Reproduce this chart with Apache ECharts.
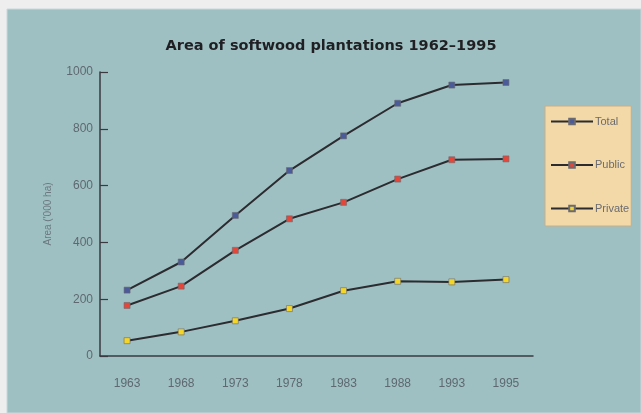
<!DOCTYPE html>
<html><head><meta charset="utf-8">
<script src="https://cdn.jsdelivr.net/npm/echarts@6/dist/echarts.min.js"></script>
<style>html,body{margin:0;padding:0;background:#eeeeee}#c{width:641px;height:413px}</style>
</head><body><div id="c"></div>
<script>
const years = ['1963','1968','1973','1978','1983','1988','1993','1995'];
const total = [232, 331, 495, 653, 775, 890, 954, 963];
const publicArea = [178, 246, 372, 483, 541, 623, 691, 694];
const privateArea = [54, 85, 124, 167, 230, 263, 261, 269];
const yTicks = [0, 200, 400, 600, 800, 1000];

const chart = echarts.init(document.getElementById('c'));
const lineCol = '#2b2b30';
function mk(name, data, col) {
  return {
    name: name, type: 'line', data: data,
    symbol: 'rect', symbolSize: 6, showSymbol: true,
    lineStyle: { color: lineCol, width: 2 },
    itemStyle: { color: col, borderColor: '#6a6a70', borderWidth: 0.6 },
    emphasis: { disabled: true },
    animation: false
  };
}
chart.setOption({
  backgroundColor: '#eeeeee',
  animation: false,
  graphic: [{
    type: 'rect', z: -10, silent: true,
    shape: { x: 7, y: 9, width: 634, height: 404 },
    style: { fill: '#9fc0c2', stroke: '#c8d8da', lineWidth: 1 }
  }],
  title: {
    text: 'Area of softwood plantations 1962\u20131995',
    left: 326, top: 34, textAlign: 'center',
    textStyle: { fontFamily: 'DejaVu Sans', fontSize: 14.5, fontWeight: 'bold', color: '#1f1f24' }
  },
  legend: {
    orient: 'vertical', left: 545, top: 106,
    width: 84,
    backgroundColor: '#f3d9a8', borderColor: '#c8ae86', borderWidth: 1,
    padding: [10, 2, 12, 5],
    itemWidth: 42, itemHeight: 7, itemGap: 32.5,
    textStyle: { fontFamily: 'Liberation Sans', fontSize: 11, color: '#6b6b70', padding: [0,0,0,-3] },
    data: ['Total', 'Public', 'Private']
  },
  grid: { left: 100, right: 108, top: 72, bottom: 57 },
  xAxis: {
    type: 'category', data: years, boundaryGap: true,
    axisLine: { lineStyle: { color: '#3a3a40', width: 1.5 } },
    axisTick: { alignWithLabel: true, inside: true, length: 6, lineStyle: { color: '#3a3a40', width: 1.2 } },
    axisLabel: { margin: 22, fontFamily: 'Liberation Sans', fontSize: 12, color: '#5e6870' },
    splitLine: { show: false }
  },
  yAxis: {
    type: 'value', min: 0, max: 1000, interval: 200,
    name: "Area ('000 ha)", nameLocation: 'middle', nameGap: 47,
    nameTextStyle: { fontFamily: 'Liberation Sans', fontSize: 10, color: '#6b7880' },
    axisLine: { show: true, lineStyle: { color: '#3a3a40', width: 1.5 } },
    axisTick: { show: true, inside: true, length: 8, lineStyle: { color: '#3a3a40', width: 1.2 } },
    axisLabel: { margin: 7, fontFamily: 'Liberation Sans', fontSize: 12, color: '#5e6870',
      formatter: function (v) { return yTicks.indexOf(v) >= 0 ? String(v) : ''; } },
    splitLine: { show: false }
  },
  series: [
    mk('Total', total, '#4b5a98'),
    mk('Public', publicArea, '#e4473a'),
    mk('Private', privateArea, '#f4d62a')
  ]
});
</script></body></html>
